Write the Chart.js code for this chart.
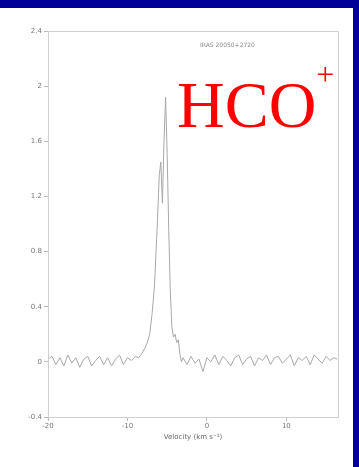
<!DOCTYPE html>
<html>
<head>
<meta charset="utf-8">
<script src="https://cdn.jsdelivr.net/npm/chart.js@4"></script>
<style>
  html, body { margin: 0; padding: 0; background: #fff; }
  body { width: 359px; height: 467px; position: relative; overflow: hidden; }
  .frame-top { position: absolute; left: 0; top: 0; width: 359px; height: 8px; background: #000099; }
  .frame-right { position: absolute; left: 353px; top: 0; width: 6px; height: 467px; background: #000099; }
  .wrap { position: absolute; left: 0; top: 8px; width: 353px; height: 459px; }
</style>
</head>
<body>
<div class="frame-top"></div>
<div class="frame-right"></div>
<div class="wrap"><canvas id="spectrum"></canvas></div>
<script>
// velocity (km/s) and antenna temperature (K)
const velocity = [
  -20, -19.5, -19, -18.5, -18, -17.5, -17, -16.5, -16, -15.5, -15, -14.5, -14, -13.5,
  -13, -12.5, -12, -11.5, -11, -10.5, -10, -9.5, -9, -8.6, -8.2, -7.8, -7.5, -7.2,
  -6.9, -6.6, -6.4, -6.2, -6.0, -5.8, -5.6, -5.4, -5.2, -5.0, -4.8, -4.6, -4.4, -4.2,
  -4.0, -3.8, -3.6, -3.4, -3.2, -3.0, -2.5, -2, -1.5, -1, -0.5, 0, 0.5, 1, 1.5, 2,
  2.5, 3, 3.5, 4, 4.5, 5, 5.5, 6, 6.5, 7, 7.5, 8, 8.5, 9, 9.5, 10, 10.5, 11, 11.5,
  12, 12.5, 13, 13.5, 14, 14.5, 15, 15.5, 16, 16.4
];
const temperature = [
  0.02, 0.04, -0.02, 0.03, -0.03, 0.05, -0.01, 0.03, -0.04, 0.02, 0.04, -0.03, 0.01, 0.04,
  -0.02, 0.03, -0.03, 0.02, 0.05, -0.02, 0.03, 0.01, 0.04, 0.03, 0.06, 0.1, 0.14, 0.2,
  0.35, 0.55, 0.8, 1.05, 1.35, 1.45, 1.15, 1.6, 1.92, 1.5, 0.95, 0.5, 0.25, 0.18,
  0.2, 0.14, 0.16, 0.06, 0.0, 0.03, -0.02, 0.04, -0.01, 0.02, -0.07, 0.03, 0.0, 0.05,
  -0.02, 0.04, 0.01, -0.03, 0.03, 0.05, -0.02, 0.02, 0.04, -0.03, 0.03, 0.01, 0.05, -0.02,
  0.03, 0.04, -0.01, 0.02, 0.05, -0.03, 0.03, 0.01, 0.04, -0.02, 0.05, 0.02, -0.01, 0.04,
  0.01, 0.03, 0.02
];
const xTicks = [-20, -10, 0, 10];
const yTicks = [-0.4, 0, 0.4, 0.8, 1.2, 1.6, 2, 2.4];
const moleculeLabel = 'HCO';
const sourceLabel = 'IRAS 20050+2720';
const axisLabel = 'Velocity (km s\u207B\u00B9)';

const points = velocity.map((v, i) => ({ x: v, y: temperature[i] }));

// box round the plot plus the two labels drawn inside it
const decorations = {
  id: 'decorations',
  afterDraw(chart) {
    const { ctx, chartArea } = chart;
    ctx.save();
    ctx.strokeStyle = '#d0d0d0';
    ctx.lineWidth = 1;
    ctx.strokeRect(chartArea.left + 0.5, chartArea.top + 0.5,
      chartArea.right - chartArea.left, chartArea.bottom - chartArea.top);

    ctx.fillStyle = '#888';
    ctx.font = '6px "DejaVu Sans"';
    ctx.textBaseline = 'alphabetic';
    ctx.fillText(sourceLabel, 200, 39);

    ctx.fillStyle = '#ff0000';
    ctx.font = '66px "Liberation Serif"';
    ctx.fillText(moleculeLabel, 177, 119);
    const w = ctx.measureText(moleculeLabel).width;
    ctx.font = '32px "Liberation Serif"';
    ctx.fillText('+', 177 + w, 77);
    ctx.restore();
  }
};

new Chart(document.getElementById('spectrum'), {
  type: 'line',
  data: {
    datasets: [{
      data: points,
      borderColor: '#a8a8a8',
      borderWidth: 1,
      pointRadius: 0,
      tension: 0,
      fill: false
    }]
  },
  options: {
    responsive: true,
    maintainAspectRatio: false,
    animation: false,
    layout: { padding: { top: 23, right: 15, left: 0, bottom: 26 } },
    plugins: {
      legend: { display: false },
      tooltip: { enabled: false }
    },
    scales: {
      x: {
        type: 'linear',
        min: -20,
        max: 16.5,
        afterBuildTicks(scale) { scale.ticks = xTicks.map(v => ({ value: v })); },
        afterFit(scale) { scale.height = 24; },
        grid: { drawOnChartArea: false, tickLength: 4, color: '#bbb' },
        border: { color: '#cfcfcf' },
        ticks: {
          color: '#777', font: { size: 7, family: 'DejaVu Sans' }, padding: 1,
          callback: v => String(v)
        },
        title: {
          display: true,
          text: axisLabel,
          color: '#666',
          font: { size: 7, family: 'DejaVu Sans' },
          padding: { top: 0, bottom: 0 }
        }
      },
      y: {
        min: -0.4,
        max: 2.4,
        afterBuildTicks(scale) { scale.ticks = yTicks.map(v => ({ value: v })); },
        afterFit(scale) { scale.width = 48; },
        grid: { drawOnChartArea: false, tickLength: 4, color: '#bbb' },
        border: { color: '#cfcfcf' },
        ticks: {
          color: '#777', font: { size: 7, family: 'DejaVu Sans' }, padding: 2,
          callback: v => String(v)
        }
      }
    }
  },
  plugins: [decorations]
});
</script>
</body>
</html>
